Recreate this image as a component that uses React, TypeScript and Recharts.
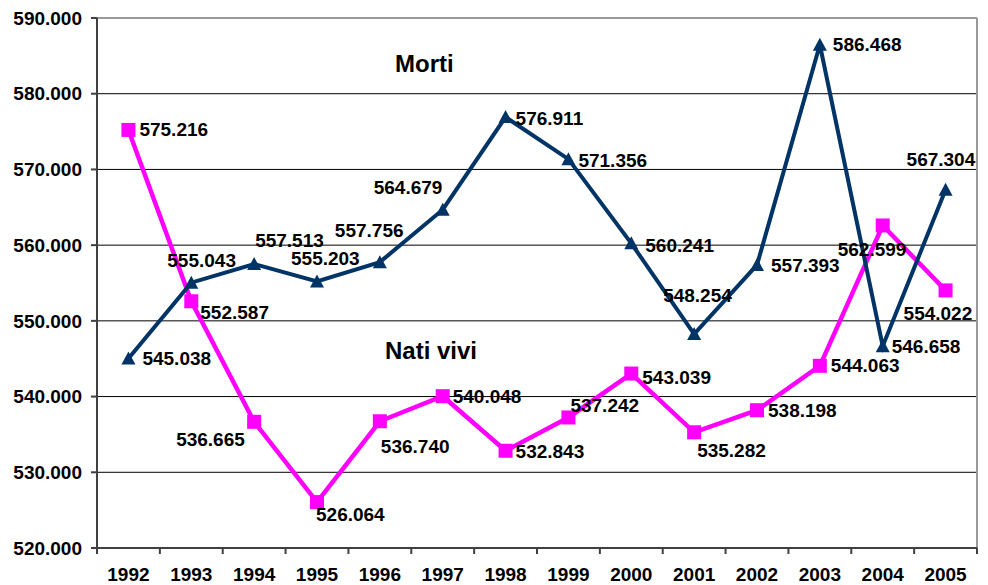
import { LineChart, Line, XAxis, YAxis, CartesianGrid, ReferenceLine, LabelList } from 'recharts'

const YEARS = ['1992', '1993', '1994', '1995', '1996', '1997', '1998', '1999', '2000', '2001', '2002', '2003', '2004', '2005']
const MORTI = [545038, 555043, 557513, 555203, 557756, 564679, 576911, 571356, 560241, 548254, 557393, 586468, 546658, 567304]
const NATI_VIVI = [575216, 552587, 536665, 526064, 536740, 540048, 532843, 537242, 543039, 535282, 538198, 544063, 562599, 554022]
const Y_TICKS = [520000, 530000, 540000, 550000, 560000, 570000, 580000, 590000]

// label placement: [dx to text start, dy to text centre]
const MORTI_LABEL_OFFSETS = [
    [14, 0], [-24, -22], [1, -23], [-26, -23], [-45, -32], [-69, -22], [10, 1],
    [10, 1], [14, 2], [-31, -39], [14, 1], [13, 0], [9, 0], [-39, -30],
]
const NATI_LABEL_OFFSETS = [
    [11, 0], [9, 11], [-78, 18], [-1, 12], [1, 25], [10, 0], [10, 1],
    [2, -12], [11, 4], [3, 18], [11, 0], [11, 0], [-45, 24], [-42, 23],
]

const NAVY = '#003366'
const MAGENTA = '#FF00FF'
const FONT = '"Liberation Sans", Arial, sans-serif'
const FS = 19

const data = YEARS.map((year, i) => ({ pos: i + 0.5, year, morti: MORTI[i], nati: NATI_VIVI[i] }))
const xTicks = Array.from({ length: YEARS.length * 2 + 1 }, (_, i) => i / 2)

const fmt = (v: number) => {
    const s = String(Math.round(v))
    return s.slice(0, -3) + '.' + s.slice(-3)
}

const XTick = (props: any) => {
    const { x, y, payload } = props
    const v = payload.value
    if (Number.isInteger(v)) {
        return <line x1={x} x2={x} y1={y} y2={y + 6} stroke="#404040" strokeWidth={2} />
    }
    return (
        <text x={x} y={y + 33} textAnchor="middle" fontFamily={FONT} fontSize={FS} fontWeight="bold" fill="#000">
            {YEARS[Math.floor(v)]}
        </text>
    )
}

const Triangle = (p: any) => {
    const { cx, cy } = p
    if (cx == null || cy == null) return null
    return <polygon points={`${cx},${cy - 7} ${cx - 7},${cy + 6} ${cx + 7},${cy + 6}`} fill={NAVY} />
}

const Square = (p: any) => {
    const { cx, cy } = p
    if (cx == null || cy == null) return null
    return <rect x={cx - 7} y={cy - 7} width={14} height={14} fill={MAGENTA} />
}

const makeLabel = (offsets: number[][]) => (props: any) => {
    const { value, index } = props
    const x = props.viewBox?.x ?? props.x
    const y = props.viewBox?.y ?? props.y
    const [dx, dy] = offsets[index] || [10, 0]
    return (
        <text x={x + dx} y={y + dy} dominantBaseline="central" fontFamily={FONT} fontSize={FS} fontWeight="bold" fill="#000">
            {fmt(value)}
        </text>
    )
}

export default function App() {
    return (
        <div style={{ position: 'absolute', left: 0, top: 0, width: 988, height: 585, background: '#fff' }}>
            <LineChart width={988} height={585} data={data} margin={{ top: 18, right: 11, left: 0, bottom: 0 }}>
                <CartesianGrid vertical={false} stroke="#000" strokeWidth={1} />
                <XAxis
                    type="number"
                    dataKey="pos"
                    domain={[0, 14]}
                    ticks={xTicks}
                    interval={0}
                    tick={<XTick />}
                    tickLine={false}
                    tickSize={0}
                    tickMargin={0}
                    height={37}
                    axisLine={{ stroke: '#404040', strokeWidth: 2 }}
                />
                <YAxis
                    type="number"
                    domain={[520000, 590000]}
                    ticks={Y_TICKS}
                    interval={0}
                    tickFormatter={fmt}
                    width={97}
                    tickSize={6}
                    tickMargin={9}
                    tick={{ fill: '#000', fontSize: FS, fontWeight: 'bold', fontFamily: FONT }}
                    axisLine={{ stroke: '#404040', strokeWidth: 2 }}
                    tickLine={{ stroke: '#404040', strokeWidth: 2 }}
                />
                <ReferenceLine y={590000} stroke="#999" strokeWidth={2} />
                <ReferenceLine x={14} stroke="#999" strokeWidth={2} />
                <Line
                    type="linear"
                    dataKey="nati"
                    stroke={MAGENTA}
                    strokeWidth={4.5}
                    dot={<Square />}
                    activeDot={false}
                    isAnimationActive={false}
                />
                <Line
                    type="linear"
                    dataKey="morti"
                    stroke={NAVY}
                    strokeWidth={4}
                    dot={<Triangle />}
                    activeDot={false}
                    isAnimationActive={false}
                />
                <Line dataKey="nati" stroke="none" dot={false} activeDot={false} isAnimationActive={false}>
                    <LabelList dataKey="nati" content={makeLabel(NATI_LABEL_OFFSETS)} />
                </Line>
                <Line dataKey="morti" stroke="none" dot={false} activeDot={false} isAnimationActive={false}>
                    <LabelList dataKey="morti" content={makeLabel(MORTI_LABEL_OFFSETS)} />
                </Line>
            </LineChart>
            <svg width={988} height={585} style={{ position: 'absolute', left: 0, top: 0, pointerEvents: 'none' }}>
                <text x={395} y={72} fontFamily={FONT} fontSize={24} fontWeight="bold" fill="#000">Morti</text>
                <text x={385} y={359} fontFamily={FONT} fontSize={24} fontWeight="bold" fill="#000">Nati vivi</text>
            </svg>
        </div>
    )
}
